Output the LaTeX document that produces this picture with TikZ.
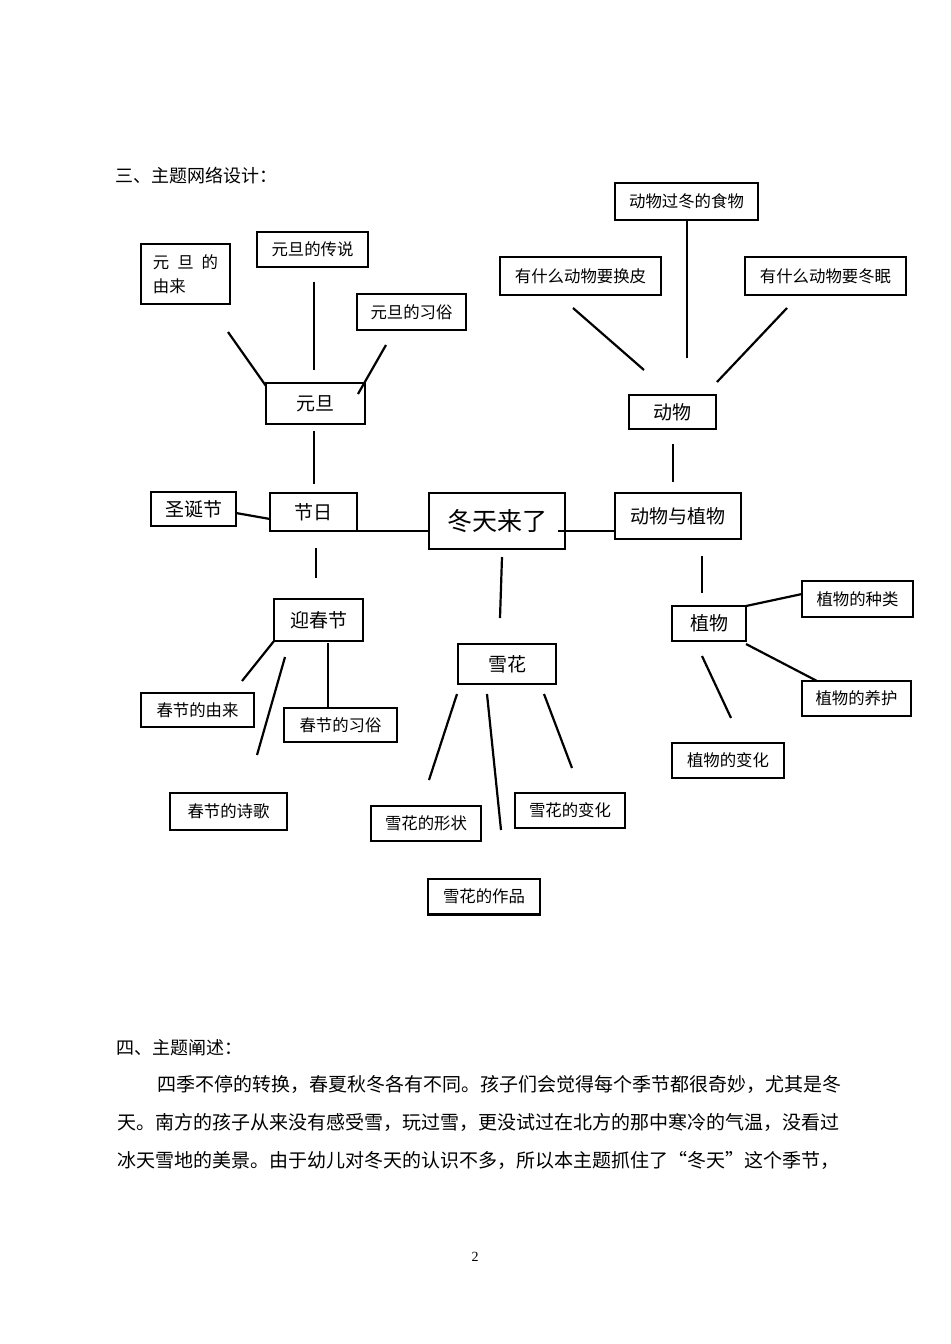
\documentclass[tikz,border=0pt]{standalone}
\usepackage{fontspec}
\setmainfont{Noto Sans CJK SC}
\newfontfamily\numfont{Liberation Serif}
\begin{document}
\begin{tikzpicture}[x=0.5pt,y=-0.5pt,
  box/.style={draw=black, line width=0.55pt, inner sep=0pt, font=\fontsize{8.2pt}{10pt}\selectfont},
  bigbox/.style={box, font=\fontsize{9.5pt}{11pt}\selectfont},
  conn/.style={line width=1.1pt, line cap=butt},
  txt/.style={inner sep=0pt, anchor=west, font=\fontsize{9.5pt}{12pt}\selectfont},
  head/.style={txt, font=\fontsize{9pt}{10pt}\selectfont}]
\useasboundingbox (0,0) rectangle (950,1344);
\fill[white] (0,0) rectangle (950,1344);

% headings
\node[head] (h3) at (115,176) {三、主题网络设计：};

% left branch
\node[box, minimum width=44.5pt, minimum height=30pt, align=left, font=\fontsize{8.2pt}{12pt}\selectfont] (yddyl) at (185.5,274) {元\hspace{4pt}旦\hspace{4pt}的\\由来};
\node[box, minimum width=55.5pt, minimum height=17.5pt] (yddcs) at (312.5,249.5) {元旦的传说};
\node[box, minimum width=54.5pt, minimum height=18pt] (yddxs) at (411.5,312) {元旦的习俗};
\node[bigbox, minimum width=49.5pt, minimum height=20.5pt] (yd) at (315.5,403.5) {元旦};
\node[bigbox, minimum width=42.5pt, minimum height=17pt] (sdj) at (193.5,509) {圣诞节};
\node[bigbox, minimum width=43.5pt, minimum height=19pt] (jr) at (313.5,512) {节日};
\node[box, minimum width=68pt, minimum height=28pt, font=\fontsize{12.5pt}{14pt}\selectfont] (main) at (497,521) {冬天来了};
\node[bigbox, minimum width=44.5pt, minimum height=21pt] (ycj) at (318.5,620) {迎春节};
\node[box, minimum width=56.5pt, minimum height=17pt, line width=1pt] (cjyl) at (197.5,710) {春节的由来};
\node[box, minimum width=56.5pt, minimum height=17pt] (cjxs) at (340.5,725) {春节的习俗};
\node[box, minimum width=58.5pt, minimum height=18.5pt] (cjsg) at (228.5,811.5) {春节的诗歌};

% snow branch
\node[bigbox, minimum width=49pt, minimum height=20pt] (xh) at (507,664) {雪花};
\node[box, minimum width=55pt, minimum height=17.5pt] (xhxz) at (426,823.5) {雪花的形状};
\node[box, minimum width=55pt, minimum height=17.5pt] (xhbh) at (570,810.5) {雪花的变化};
\node[box, minimum width=56pt, minimum height=17.5pt] (xhzp) at (484,896.5) {雪花的作品};

% right branch
\node[bigbox, minimum width=63pt, minimum height=23pt] (dwzw) at (678,516) {动物与植物};
\node[bigbox, minimum width=43.5pt, minimum height=17pt] (dw) at (672.5,412) {动物};
\node[box, minimum width=71.5pt, minimum height=18.5pt] (dwgd) at (686.5,201.5) {动物过冬的食物};
\node[box, minimum width=80.5pt, minimum height=19pt] (hp) at (580.5,276) {有什么动物要换皮};
\node[box, minimum width=80.5pt, minimum height=19pt] (dm) at (825.5,276) {有什么动物要冬眠};
\node[bigbox, minimum width=37pt, minimum height=17.5pt] (zw) at (709,623.5) {植物};
\node[box, minimum width=55.5pt, minimum height=18pt] (zwzl) at (857.5,599) {植物的种类};
\node[box, minimum width=54.5pt, minimum height=17.5pt] (zwyh) at (856.5,698.5) {植物的养护};
\node[box, minimum width=56pt, minimum height=17.5pt] (zwbh) at (728,760.5) {植物的变化};

% connector end points
\coordinate (a1) at (228,332); \coordinate (a2) at (266,386);
\coordinate (b1) at (314,282); \coordinate (b2) at (314,370);
\coordinate (c1) at (386,345); \coordinate (c2) at (358,394);
\coordinate (d1) at (314,431); \coordinate (d2) at (314,484);
\coordinate (e1) at (236,513); \coordinate (e2) at (270,519);
\coordinate (f1) at (270,531); \coordinate (f2) at (429,531);
\coordinate (g1) at (558,531); \coordinate (g2) at (615,531);
\coordinate (h1) at (316,548); \coordinate (h2) at (316,578);
\coordinate (i1) at (274,641); \coordinate (i2) at (242,681);
\coordinate (j1) at (285,657); \coordinate (j2) at (257,755);
\coordinate (k1) at (328,643); \coordinate (k2) at (328,707);
\coordinate (l1) at (502,557); \coordinate (l2) at (500,618);
\coordinate (m1) at (457,694); \coordinate (m2) at (429,780);
\coordinate (n1) at (487,694); \coordinate (n2) at (501,830);
\coordinate (o1) at (544,694); \coordinate (o2) at (572,768);
\coordinate (p1) at (573,308); \coordinate (p2) at (644,370);
\coordinate (q1) at (687,220); \coordinate (q2) at (687,358);
\coordinate (r1) at (787,308); \coordinate (r2) at (717,382);
\coordinate (s1) at (673,444); \coordinate (s2) at (673,482);
\coordinate (t1) at (702,556); \coordinate (t2) at (702,593);
\coordinate (u1) at (746,606); \coordinate (u2) at (802,594);
\coordinate (v1) at (746,644); \coordinate (v2) at (817,681);
\coordinate (w1) at (702,656); \coordinate (w2) at (731,718);

\foreach \s/\e in {a1/a2,b1/b2,c1/c2,d1/d2,e1/e2,f1/f2,g1/g2,h1/h2,i1/i2,j1/j2,k1/k2,l1/l2,m1/m2,n1/n2,o1/o2,p1/p2,q1/q2,r1/r2,s1/s2,t1/t2,u1/u2,v1/v2,w1/w2}
  \draw[conn] (\s) -- (\e);
\draw[line width=1pt] (xhzp.south west) -- (xhzp.south east);

% text section
\node[head] (h4) at (116,1048) {四、主题阐述：};
\node[txt] (p1t) at (157,1084) {四季不停的转换，春夏秋冬各有不同。孩子们会觉得每个季节都很奇妙，尤其是冬};
\node[txt] (p2t) at (117,1122) {天。南方的孩子从来没有感受雪，玩过雪，更没试过在北方的那中寒冷的气温，没看过};
\node[txt] (p3t) at (117,1160) {冰天雪地的美景。由于幼儿对冬天的认识不多，所以本主题抓住了“冬天”这个季节，};
\node[inner sep=0pt, font=\numfont\fontsize{7pt}{8pt}\selectfont] (pg) at (475,1257) {2};
\end{tikzpicture}
\end{document}
